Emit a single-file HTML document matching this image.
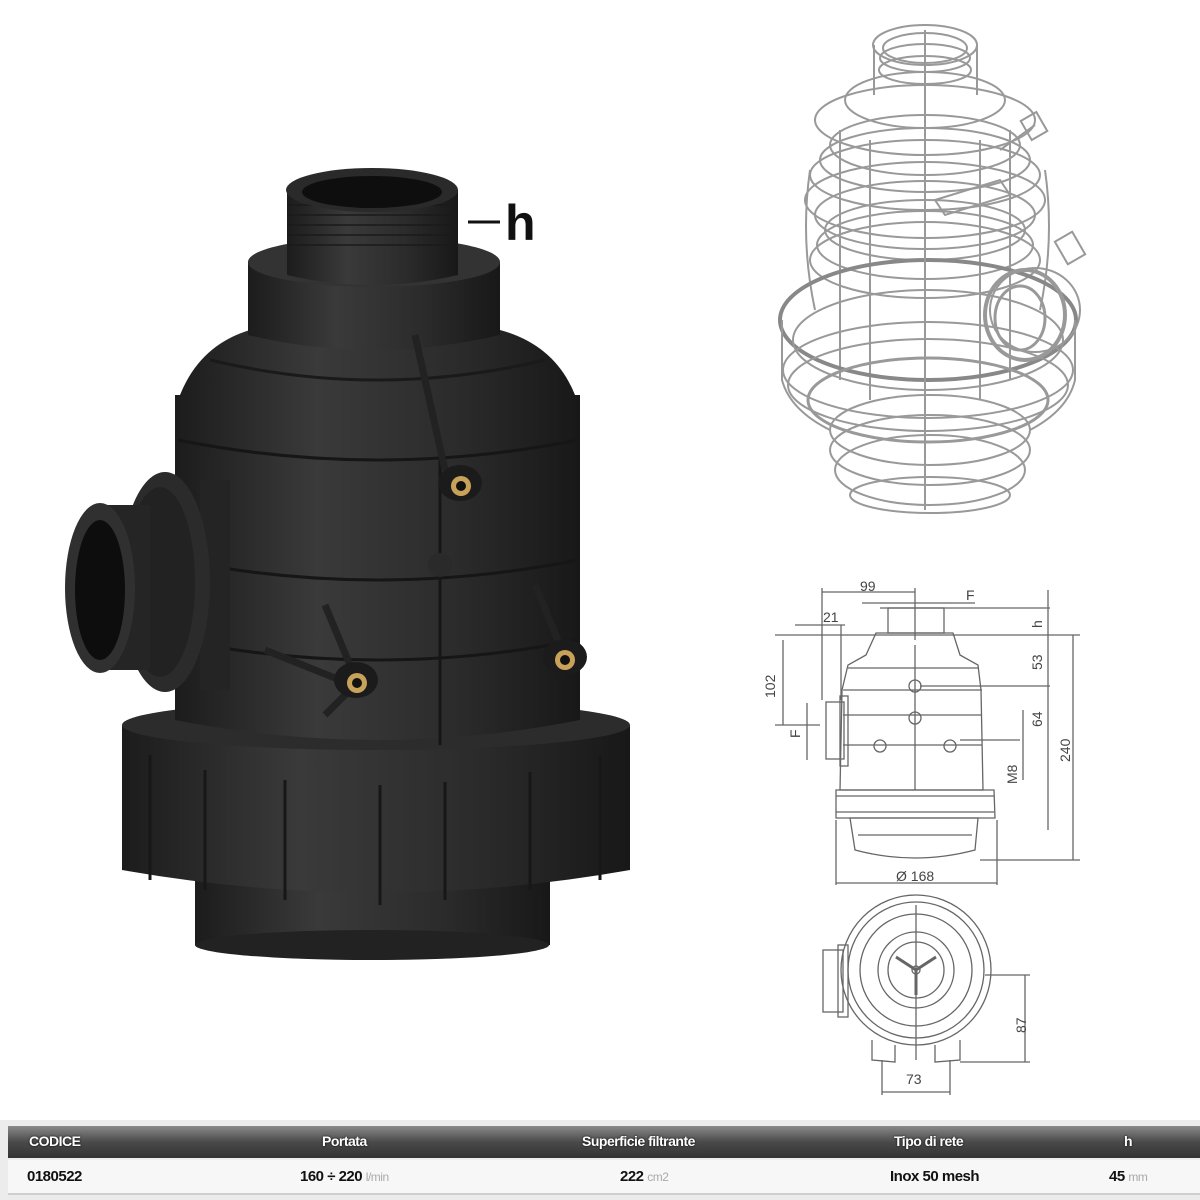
<!DOCTYPE html>
<html><head><meta charset="utf-8"><style>
html,body{margin:0;padding:0;background:#fff;}
body{width:1200px;height:1200px;position:relative;overflow:hidden;font-family:"Liberation Sans",sans-serif;}
.tbl{position:absolute;left:0;top:1120px;width:1200px;height:80px;background:#ececec;}
.hdr{position:absolute;left:8px;top:6px;width:1192px;height:32px;background:linear-gradient(#8a8a8a,#4a4a4a 50%,#333);}
.hdr span,.row span{position:absolute;font-weight:bold;font-size:14px;}
.hdr span{color:#fff;top:7px;text-shadow:0 0 2px #000;letter-spacing:-0.5px}
.row{position:absolute;left:8px;top:40px;width:1192px;height:33px;background:#f7f7f7;border-bottom:2px solid #cfcfcf;}
.row span{color:#111;top:8px;font-size:15px;letter-spacing:-0.5px}
.row small{color:#aaa;font-weight:normal;font-size:12px}
</style></head><body>
<svg width="1200" height="1120" style="position:absolute;left:0;top:0">
<defs>
<linearGradient id="bd" x1="0" x2="1"><stop offset="0" stop-color="#1c1c1c"/><stop offset=".35" stop-color="#3a3a3a"/><stop offset=".7" stop-color="#2b2b2b"/><stop offset="1" stop-color="#181818"/></linearGradient>
</defs>
<g>
<!-- bottom -->
<path d="M195 880 L550 880 L550 945 Q372 975 195 945Z" fill="url(#bd)"/>
<ellipse cx="372" cy="945" rx="177" ry="15" fill="#222"/>
<!-- collar -->
<path d="M122 725 L630 725 L630 870 Q376 915 122 870Z" fill="url(#bd)"/>
<ellipse cx="376" cy="725" rx="254" ry="25" fill="#2c2c2c"/>
<g stroke="#171717" stroke-width="3">
<line x1="150" y1="755" x2="150" y2="880"/><line x1="205" y1="770" x2="205" y2="890"/><line x1="285" y1="780" x2="285" y2="900"/><line x1="380" y1="785" x2="380" y2="905"/><line x1="445" y1="782" x2="445" y2="900"/><line x1="530" y1="772" x2="530" y2="890"/><line x1="600" y1="755" x2="600" y2="880"/>
</g>
<!-- body -->
<path d="M175 395 L580 395 L580 720 Q378 760 175 720Z" fill="url(#bd)"/>
<g fill="none" stroke="#161616" stroke-width="3">
<path d="M178 440 Q378 480 578 440"/><path d="M178 560 Q378 600 578 560"/><path d="M178 640 Q378 680 578 640"/><line x1="440" y1="430" x2="440" y2="745"/>
</g>
<!-- shoulder dome -->
<path d="M175 420 L180 395 Q200 345 250 330 L500 330 Q555 345 575 395 L580 420 Q378 460 175 420Z" fill="url(#bd)"/>
<path d="M210 360 Q378 400 545 360" fill="none" stroke="#1a1a1a" stroke-width="3"/>
<!-- upper cylinder -->
<path d="M248 262 L500 262 L500 335 Q372 365 248 335Z" fill="url(#bd)"/>
<ellipse cx="374" cy="262" rx="126" ry="25" fill="#333"/>
<!-- neck -->
<path d="M287 190 L458 190 L458 275 Q372 295 287 275Z" fill="url(#bd)"/>
<g stroke="#1a1a1a" stroke-width="1.5"><line x1="287" y1="205" x2="458" y2="205"/><line x1="287" y1="215" x2="458" y2="215"/><line x1="287" y1="225" x2="458" y2="225"/><line x1="287" y1="235" x2="458" y2="235"/><line x1="287" y1="245" x2="458" y2="245"/></g>
<ellipse cx="372" cy="190" rx="86" ry="22" fill="#2a2a2a"/>
<ellipse cx="372" cy="192" rx="70" ry="16" fill="#0e0e0e"/>
<!-- side port -->
<path d="M200 480 L230 480 L230 690 L200 690Z" fill="#242424"/>
<ellipse cx="165" cy="582" rx="45" ry="110" fill="#2b2b2b"/>
<ellipse cx="160" cy="582" rx="35" ry="95" fill="#222"/>
<path d="M100 505 L150 505 L150 670 L100 670Z" fill="#252525"/>
<ellipse cx="100" cy="588" rx="35" ry="85" fill="#303030"/>
<ellipse cx="100" cy="590" rx="25" ry="70" fill="#0d0d0d"/>
<!-- bosses with fins -->
<g stroke="#222" stroke-width="7">
<line x1="415" y1="335" x2="445" y2="470"/><line x1="325" y1="605" x2="350" y2="665"/><line x1="535" y1="585" x2="560" y2="645"/>
<line x1="265" y1="650" x2="340" y2="680"/><line x1="325" y1="715" x2="350" y2="690"/>
</g>
<circle cx="440" cy="565" r="12" fill="#2a2a2a"/>
<g>
<ellipse cx="460" cy="483" rx="22" ry="18" fill="#1b1b1b"/><circle cx="461" cy="486" r="10" fill="#c9a25a"/><circle cx="461" cy="486" r="5" fill="#111"/>
<ellipse cx="356" cy="680" rx="22" ry="18" fill="#1b1b1b"/><circle cx="357" cy="683" r="10" fill="#c9a25a"/><circle cx="357" cy="683" r="5" fill="#111"/>
<ellipse cx="565" cy="657" rx="22" ry="18" fill="#1b1b1b"/><circle cx="565" cy="660" r="10" fill="#c9a25a"/><circle cx="565" cy="660" r="5" fill="#111"/>
</g>
<line x1="468" y1="222" x2="500" y2="222" stroke="#111" stroke-width="3"/>
<text x="505" y="240" font-family="Liberation Sans" font-weight="bold" font-size="50" fill="#111">h</text>
</g>
<!-- wireframe -->
<g fill="none" stroke="#999" stroke-width="2">
<ellipse cx="925" cy="45" rx="52" ry="20"/><ellipse cx="925" cy="48" rx="42" ry="15"/>
<ellipse cx="925" cy="58" rx="45" ry="14"/><ellipse cx="925" cy="70" rx="46" ry="14"/>
<line x1="874" y1="45" x2="874" y2="95"/><line x1="977" y1="45" x2="977" y2="95"/>
<ellipse cx="925" cy="100" rx="80" ry="28"/><ellipse cx="925" cy="120" rx="110" ry="35"/>
<ellipse cx="925" cy="145" rx="95" ry="30"/><ellipse cx="925" cy="160" rx="105" ry="32"/><ellipse cx="925" cy="175" rx="115" ry="35"/>
<ellipse cx="925" cy="200" rx="120" ry="38"/><ellipse cx="925" cy="215" rx="110" ry="34"/><ellipse cx="925" cy="230" rx="100" ry="30"/>
<ellipse cx="925" cy="245" rx="108" ry="34"/><ellipse cx="925" cy="260" rx="115" ry="38"/>
<path d="M810 170 Q800 240 815 310"/><path d="M1045 170 Q1055 240 1040 310"/>
<line x1="840" y1="130" x2="840" y2="380"/><line x1="1010" y1="130" x2="1010" y2="380"/><line x1="870" y1="140" x2="870" y2="400"/><line x1="980" y1="140" x2="980" y2="400"/>
<ellipse cx="928" cy="320" rx="148" ry="60" stroke-width="4" stroke="#888"/>
<ellipse cx="928" cy="340" rx="135" ry="50"/><ellipse cx="928" cy="370" rx="145" ry="48"/>
<ellipse cx="928" cy="385" rx="140" ry="46"/>
<ellipse cx="928" cy="400" rx="120" ry="42" stroke-width="3"/><ellipse cx="930" cy="430" rx="100" ry="35"/><ellipse cx="930" cy="450" rx="100" ry="35"/>
<ellipse cx="930" cy="470" rx="95" ry="35"/><ellipse cx="930" cy="495" rx="80" ry="18"/>
<path d="M782 320 L782 380 Q790 410 830 430"/><path d="M1075 320 L1075 380 Q1068 410 1030 430"/>
<ellipse cx="1025" cy="315" rx="40" ry="45" stroke-width="4"/><ellipse cx="1020" cy="318" rx="25" ry="32" stroke-width="3"/><ellipse cx="1035" cy="310" rx="45" ry="42"/>
<path d="M1000 150 L1035 125"/><rect x="1025" y="115" width="18" height="22" transform="rotate(-30 1034 126)"/>
<rect x="1060" y="235" width="20" height="26" transform="rotate(-30 1070 248)"/>
<path d="M935 200 L1000 180 L1010 195 L945 215Z"/>
<line x1="925" y1="30" x2="925" y2="510"/>
</g>
<!-- tech drawing -->
<g fill="none" stroke="#666" stroke-width="1.3">
<rect x="888" y="608" width="56" height="25"/>
<path d="M876 633 L953 633 L960 655 L978 665 L981 690 L983 790 L840 790 L842 690 L848 665 L866 655Z"/>
<line x1="848" y1="668" x2="978" y2="668"/><line x1="843" y1="690" x2="982" y2="690"/><line x1="843" y1="715" x2="982" y2="715"/><line x1="843" y1="745" x2="982" y2="745"/>
<rect x="826" y="702" width="18" height="57"/><rect x="840" y="696" width="8" height="70"/>
<path d="M836 790 L994 790 L995 818 L836 818Z"/><line x1="836" y1="796" x2="994" y2="796"/><line x1="836" y1="812" x2="994" y2="812"/>
<path d="M850 818 L978 818 L975 850 Q915 866 855 850Z"/><line x1="858" y1="835" x2="972" y2="835"/>
<circle cx="915" cy="686" r="6"/><circle cx="915" cy="718" r="6"/><circle cx="880" cy="746" r="6"/><circle cx="950" cy="746" r="6"/>
<line x1="915" y1="645" x2="915" y2="790"/>
<line x1="822" y1="592" x2="915" y2="592"/><line x1="822" y1="588" x2="822" y2="700"/><line x1="915" y1="588" x2="915" y2="640"/>
<line x1="795" y1="625" x2="845" y2="625"/><line x1="841" y1="625" x2="841" y2="700"/>
<line x1="862" y1="603" x2="975" y2="603"/>
<line x1="880" y1="608" x2="1050" y2="608"/><line x1="775" y1="635" x2="1080" y2="635"/>
<line x1="1048" y1="590" x2="1048" y2="830"/><line x1="920" y1="686" x2="1050" y2="686"/><line x1="960" y1="740" x2="1020" y2="740"/>
<line x1="1073" y1="635" x2="1073" y2="860"/><line x1="980" y1="860" x2="1080" y2="860"/>
<line x1="783" y1="640" x2="783" y2="725"/><line x1="775" y1="725" x2="820" y2="725"/>
<line x1="807" y1="703" x2="807" y2="760"/>
<line x1="1023" y1="710" x2="1023" y2="780"/>
<line x1="836" y1="820" x2="836" y2="885"/><line x1="997" y1="820" x2="997" y2="885"/><line x1="836" y1="883" x2="997" y2="883"/>
<circle cx="916" cy="970" r="75"/><circle cx="916" cy="970" r="68"/><circle cx="916" cy="970" r="56"/><circle cx="916" cy="970" r="38"/><circle cx="916" cy="970" r="28"/>
<circle cx="916" cy="970" r="4"/><path d="M916 970 L916 995 M916 970 L896 957 M916 970 L936 957" stroke-width="3"/>
<rect x="823" y="950" width="20" height="62"/><rect x="838" y="945" width="10" height="72"/>
<path d="M872 1040 L872 1060 L895 1062 L895 1045 M935 1045 L935 1062 L960 1060 L960 1040"/>
<line x1="916" y1="905" x2="916" y2="1060"/>
<line x1="985" y1="975" x2="1030" y2="975"/><line x1="960" y1="1062" x2="1030" y2="1062"/><line x1="1025" y1="975" x2="1025" y2="1062"/>
<line x1="882" y1="1060" x2="882" y2="1095"/><line x1="950" y1="1060" x2="950" y2="1095"/><line x1="882" y1="1092" x2="950" y2="1092"/>
</g>
<g font-family="Liberation Sans" font-size="14" fill="#444">
<text x="860" y="591">99</text><text x="966" y="600">F</text><text x="823" y="622">21</text>
<text x="1042" y="628" transform="rotate(-90 1042 628)">h</text>
<text x="1042" y="670" transform="rotate(-90 1042 670)">53</text>
<text x="1042" y="727" transform="rotate(-90 1042 727)">64</text>
<text x="1070" y="762" transform="rotate(-90 1070 762)">240</text>
<text x="1017" y="784" transform="rotate(-90 1017 784)">M8</text>
<text x="775" y="698" transform="rotate(-90 775 698)">102</text>
<text x="800" y="738" transform="rotate(-90 800 738)">F</text>
<text x="896" y="881">Ø 168</text>
<text x="1026" y="1033" transform="rotate(-90 1026 1033)">87</text>
<text x="906" y="1084">73</text>
</g>
</svg>
<div class="tbl">
<div class="hdr"><span style="left:21px">CODICE</span><span style="left:314px">Portata</span><span style="left:574px">Superficie filtrante</span><span style="left:886px">Tipo di rete</span><span style="left:1116px">h</span></div>
<div class="row"><span style="left:19px">0180522</span><span style="left:292px">160 ÷ 220 <small>l/min</small></span><span style="left:612px">222 <small>cm2</small></span><span style="left:882px">Inox 50 mesh</span><span style="left:1101px">45 <small>mm</small></span></div>
</div>
</body></html>
